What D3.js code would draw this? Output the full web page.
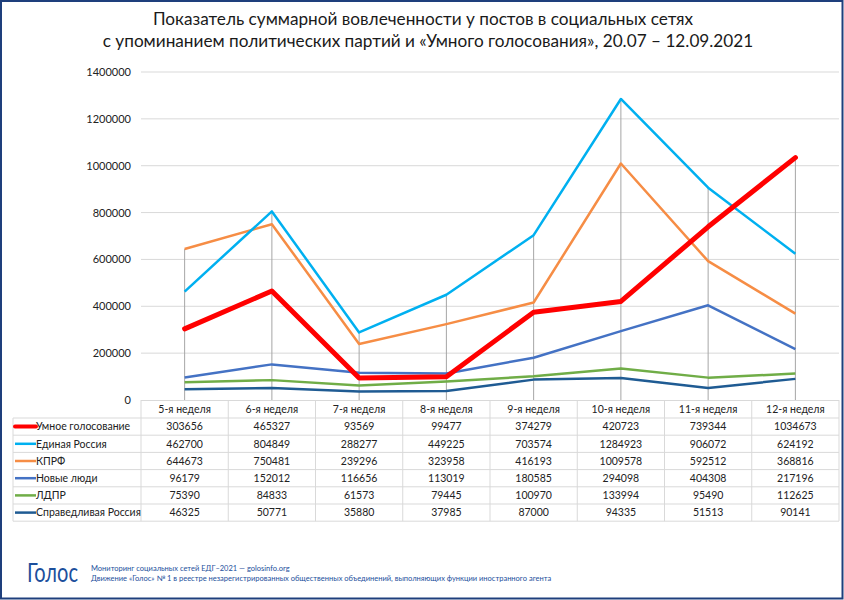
<!DOCTYPE html>
<html><head><meta charset="utf-8">
<script src="https://cdn.jsdelivr.net/npm/d3@7"></script>
<style>body{margin:0;background:#fff}svg{display:block}</style>
</head><body>
<script>
const categories = ["5-я неделя","6-я неделя","7-я неделя","8-я неделя","9-я неделя","10-я неделя","11-я неделя","12-я неделя"];
const seriesNames = ["Умное голосование","Единая Россия","КПРФ","Новые люди","ЛДПР","Справедливая Россия"];
const umnoe = [303656,465327,93569,99477,374279,420723,739344,1034673];
const er = [462700,804849,288277,449225,703574,1284923,906072,624192];
const kprf = [644673,750481,239296,323958,416193,1009578,592512,368816];
const novye = [96179,152012,116656,113019,180585,294098,404308,217196];
const ldpr = [75390,84833,61573,79445,100970,133994,95490,112625];
const sr = [46325,50771,35880,37985,87000,94335,51513,90141];
const yTicks = [0,200000,400000,600000,800000,1000000,1200000,1400000];
const colors = ["#ff0000","#00b0f0","#f68d45","#4472c4","#70ad47","#1f5b93"];
const widths = [5,2.5,2.5,2.5,2.5,2.5];
const values = [umnoe,er,kprf,novye,ldpr,sr];

const W=844,H=600;
const svg=d3.select("body").append("svg").attr("width",W).attr("height",H);
const font="Lato, 'Open Sans', sans-serif";
svg.append("rect").attr("x",0).attr("y",0).attr("width",W).attr("height",H).attr("fill","#fff");

// title
const title=svg.append("text").attr("text-anchor","middle").attr("font-family",font).attr("font-size",17.2).attr("fill","#1a1a1a");
title.append("tspan").attr("x",423).attr("y",25).text("Показатель суммарной вовлеченности у постов в социальных сетях");
title.append("tspan").attr("x",428).attr("y",47).text("с упоминанием политических партий и «Умного голосования», 20.07 – 12.09.2021");

const x=d3.scaleBand().domain(categories).range([141,839]).padding(0);
const y=d3.scaleLinear().domain([0,1400000]).range([400,72]);

// gridlines
svg.append("g").selectAll("line").data(yTicks.slice(1)).join("line")
 .attr("x1",141).attr("x2",839).attr("y1",d=>y(d)).attr("y2",d=>y(d))
 .attr("stroke","#d9d9d9").attr("stroke-width",1);
// y labels
svg.append("g").selectAll("text").data(yTicks).join("text")
 .attr("x",131).attr("y",d=>y(d)+4).attr("text-anchor","end")
 .attr("font-family",font).attr("font-size",11).attr("fill","#222").text(d=>d);

// drop lines
svg.append("g").selectAll("line").data(categories).join("line")
 .attr("x1",d=>x(d)+x.bandwidth()/2).attr("x2",d=>x(d)+x.bandwidth()/2)
 .attr("y1",(d,i)=>y(d3.max(values,v=>v[i]))).attr("y2",y(0))
 .attr("stroke","#a6a6a6").attr("stroke-width",1);

// lines (draw smaller first, red on top)
const line=d3.line().x((d,i)=>x(categories[i])+x.bandwidth()/2).y(d=>y(d)).curve(d3.curveLinear);
const order=[5,4,3,2,1,0];
svg.append("g").selectAll("path").data(order).join("path")
 .attr("d",k=>line(values[k])).attr("fill","none")
 .attr("stroke",k=>colors[k]).attr("stroke-width",k=>widths[k])
 .attr("stroke-linejoin","round").attr("stroke-linecap",k=>k===0?"round":"butt");

// table
const tg=svg.append("g");
const rowH=17.2, tTop=418;
const gridC="#d9d9d9";
tg.append("line").attr("x1",141).attr("x2",839).attr("y1",400.5).attr("y2",400.5).attr("stroke",gridC);
const bounds=[141].concat(categories.map(c=>x(c)+x.bandwidth()));
tg.selectAll("line.v").data(bounds).join("line").attr("class","v")
 .attr("x1",d=>d).attr("x2",d=>d).attr("y1",400).attr("y2",tTop+rowH*6).attr("stroke",gridC);
tg.append("line").attr("x1",13).attr("x2",13).attr("y1",tTop).attr("y2",tTop+rowH*6).attr("stroke",gridC);
tg.selectAll("line.h").data(d3.range(7)).join("line").attr("class","h")
 .attr("x1",13).attr("x2",839).attr("y1",i=>tTop+rowH*i).attr("y2",i=>tTop+rowH*i).attr("stroke",gridC);
tg.selectAll("text.hd").data(categories).join("text").attr("class","hd")
 .attr("x",d=>x(d)+x.bandwidth()/2).attr("y",413).attr("text-anchor","middle")
 .attr("font-family",font).attr("font-size",10.5).attr("fill","#222").text(d=>d);
seriesNames.forEach((name,k)=>{
  const cy=tTop+rowH*k+rowH/2;
  tg.append("line").attr("x1",15).attr("x2",36).attr("y1",cy).attr("y2",cy)
    .attr("stroke",colors[k]).attr("stroke-width",k===0?4:2.5).attr("stroke-linecap",k===0?"round":"butt");
  tg.append("text").attr("x",36).attr("y",cy+3.8).attr("font-family",font).attr("font-size",10.5).attr("fill","#222").text(name);
  tg.append("g").selectAll("text").data(values[k]).join("text")
    .attr("x",(d,i)=>x(categories[i])+x.bandwidth()/2).attr("y",cy+3.8).attr("text-anchor","middle")
    .attr("font-family",font).attr("font-size",10.5).attr("fill","#222").text(d=>d);
});

// footer
svg.append("text").attr("transform","translate(27,581.5) scale(1,1.3)").attr("x",0).attr("y",0)
 .attr("font-family",font).attr("font-size",20)
 .attr("textLength",51).attr("lengthAdjust","spacingAndGlyphs")
 .attr("fill","#1c4f9c").text("Голос");
svg.append("text").attr("x",91).attr("y",570.5).attr("font-family",font).attr("font-size",7.5).attr("fill","#1c4f9c")
 .text("Мониторинг социальных сетей ЕДГ–2021 — golosinfo.org");
svg.append("text").attr("x",91).attr("y",580.5).attr("font-family",font).attr("font-size",7.5).attr("fill","#1c4f9c")
 .text("Движение «Голос» № 1 в реестре незарегистрированных общественных объединений, выполняющих функции иностранного агента");

// frame
svg.append("rect").attr("x",1).attr("y",1).attr("width",W-2.5).attr("height",H-2.5)
 .attr("fill","none").attr("stroke","#1e3f7c").attr("stroke-width",2);
</script>
</body></html>
